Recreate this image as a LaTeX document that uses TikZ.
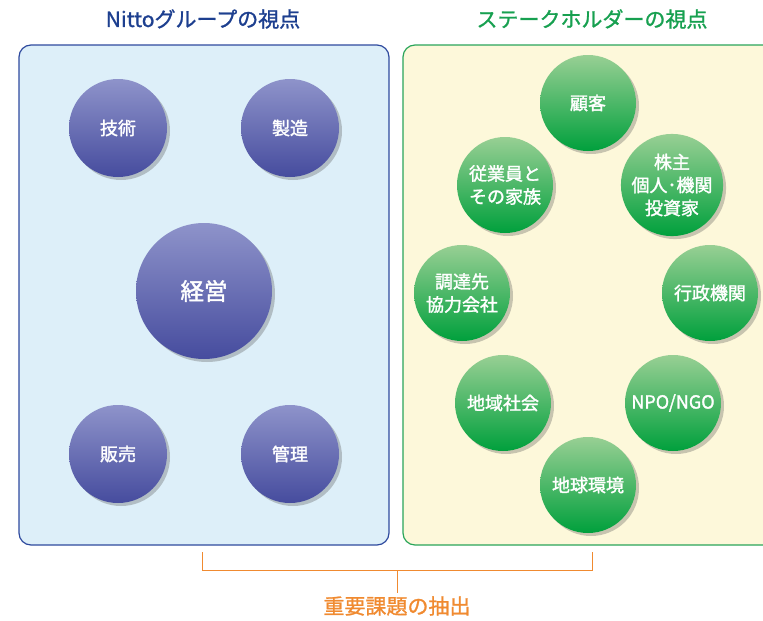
\documentclass[tikz,border=0pt]{standalone}
\usepackage{fontspec}
\setmainfont{Noto Sans CJK JP}
\newfontfamily\medfont[FakeBold=1.2]{Noto Sans CJK JP}
\newfontfamily\ballfont[FakeBold=1.6]{Noto Sans CJK JP}
\usetikzlibrary{shadows}
\definecolor{navy}{HTML}{1D3F8F}
\definecolor{boxblue}{HTML}{2E4A9E}
\definecolor{fillblue}{HTML}{DDEFF9}
\definecolor{boxgreen}{HTML}{2AA55A}
\definecolor{fillcream}{HTML}{FDF8DA}
\definecolor{titlegreen}{HTML}{17A050}
\definecolor{ptop}{HTML}{8E93CA}
\definecolor{pbot}{HTML}{464C9E}
\definecolor{gtop}{HTML}{98CF94}
\definecolor{gbot}{HTML}{00A03C}
\definecolor{orng}{HTML}{F08A30}
\tikzset{
  panel/.style={rounded corners=12pt, line width=1.2pt},
  ball/.style={circle, inner sep=0pt, text=white, align=center,
    drop shadow={shadow xshift=3pt, shadow yshift=-3pt, opacity=0.3, fill=black!70},
    font=\ballfont\fontsize{18}{23}\selectfont},
  pball/.style={ball, top color=ptop, bottom color=pbot, minimum size=98pt},
  gball/.style={ball, top color=gtop, bottom color=gbot, minimum size=96pt},
  title/.style={font=\medfont\fontsize{21}{24}\selectfont},
  brk/.style={draw=orng, line width=1pt}
}
\begin{document}
\begin{tikzpicture}[x=1pt,y=-1pt]
\useasboundingbox (0,0) rectangle (763,621);
\draw[panel, draw=boxblue, fill=fillblue] (19,45) rectangle (389,545);
\draw[panel, draw=boxgreen, fill=fillcream] (403,45) rectangle (790,545);
\node[title, text=navy] (t1) at (203,19) {Nittoグループの視点};
\node[title, text=titlegreen] (t2) at (592,19) {ステークホルダーの視点};
% left
\node[pball] (gijutsu) at (118,128) {技術};
\node[pball] (seizo) at (290,128) {製造};
\node[pball, minimum size=136pt, font=\ballfont\fontsize{23.5}{28}\selectfont] (keiei) at (204,291) {経営};
\node[pball] (hanbai) at (118,454) {販売};
\node[pball] (kanri) at (290,454) {管理};
% right
\node[gball] (kokyaku) at (588,103) {顧客};
\node[gball] (jugyoin) at (505,185) {従業員と\\その家族};
\node[gball] (kabunushi) at (672,185) {株主\\個人･機関\\投資家};
\node[gball] (chotatsu) at (462,293) {調達先\\協力会社};
\node[gball] (gyosei) at (710,293) {行政機関};
\node[gball] (chiiki) at (503,403) {地域社会};
\node[gball] (npo) at (673,403) {NPO/NGO};
\node[gball] (chikyu) at (588,485) {地球環境};
% bracket
\coordinate (bl) at (202,552);
\coordinate (br) at (592,552);
\coordinate (bm) at (397,570);
\node[font=\medfont\fontsize{21}{24}\selectfont, text=orng] (juyo) at (397,606) {重要課題の抽出};
\draw[brk] (bl) -- (202,570) -- (592,570) -- (br);
\draw[brk] (bm) -- (juyo.north);
\end{tikzpicture}
\end{document}
